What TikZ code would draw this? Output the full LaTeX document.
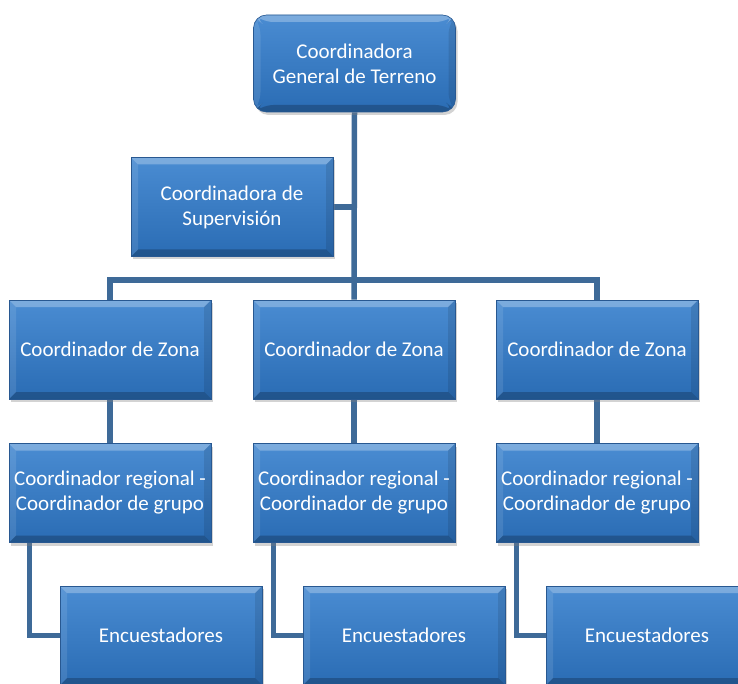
\documentclass[tikz,border=0pt]{standalone}
\usepackage{fontspec}
\setmainfont{Carlito}
\usetikzlibrary{shadows,backgrounds}
\definecolor{boxtop}{RGB}{74,140,210}
\definecolor{boxbot}{RGB}{42,108,180}
\definecolor{boxedge}{RGB}{40,88,145}
\definecolor{linec}{RGB}{62,106,152}
\tikzset{
  orgbox/.style={rectangle, minimum width=202pt, minimum height=99pt, inner sep=0pt,
    top color=boxtop, bottom color=boxbot, draw=boxedge, line width=0.6pt,
    text=white, align=center, font=\fontsize{21}{25}\selectfont,
    drop shadow={opacity=0.35, shadow xshift=2pt, shadow yshift=-3pt},
    path picture={
      \fill[white,opacity=0.28] (path picture bounding box.north west) -- (path picture bounding box.north east)
        -- ([xshift=-7pt,yshift=-7pt]path picture bounding box.north east) -- ([xshift=7pt,yshift=-7pt]path picture bounding box.north west) -- cycle;
      \fill[black,opacity=0.22] (path picture bounding box.south west) -- (path picture bounding box.south east)
        -- ([xshift=-7pt,yshift=7pt]path picture bounding box.south east) -- ([xshift=7pt,yshift=7pt]path picture bounding box.south west) -- cycle;
      \fill[black,opacity=0.10] (path picture bounding box.north east) -- (path picture bounding box.south east)
        -- ([xshift=-7pt,yshift=7pt]path picture bounding box.south east) -- ([xshift=-7pt,yshift=-7pt]path picture bounding box.north east) -- cycle;
      \fill[white,opacity=0.10] (path picture bounding box.north west) -- (path picture bounding box.south west)
        -- ([xshift=7pt,yshift=7pt]path picture bounding box.south west) -- ([xshift=7pt,yshift=-7pt]path picture bounding box.north west) -- cycle;
    }},
  roundbox/.style={orgbox, rounded corners=13pt, minimum height=97pt},
  conn/.style={draw=linec, line width=5.5pt, line join=miter}
}
\begin{document}
\begin{tikzpicture}[x=1pt,y=-1pt]
\useasboundingbox (0,0) rectangle (738,684);
\clip (0,0) rectangle (738,684);
% nodes
\node[roundbox] (top) at (354.5,63.5) {Coordinadora\\General de Terreno};
\node[orgbox] (sup) at (232,207) {Coordinadora de\\Supervisión};
\node[orgbox] (zonaL) at (110,349.5) {Coordinador de Zona};
\node[orgbox] (zonaM) at (354,349.5) {Coordinador de Zona};
\node[orgbox] (zonaR) at (597,349.5) {Coordinador de Zona};
\node[orgbox] (regL) at (110,493) {Coordinador regional -\\Coordinador de grupo};
\node[orgbox] (regM) at (354,493) {Coordinador regional -\\Coordinador de grupo};
\node[orgbox] (regR) at (597,493) {Coordinador regional -\\Coordinador de grupo};
\node[orgbox] (encL) at (161,635.5) {Encuestadores};
\node[orgbox] (encM) at (404,635.5) {Encuestadores};
\node[orgbox] (encR) at (647,635.5) {Encuestadores};
\coordinate (bar) at (354,280);
% connectors (drawn behind boxes)
\begin{scope}[on background layer]
\draw[conn] (top.south) -- (zonaM.north);
\draw[conn] (sup.east) -- (sup.east -| top.south);
\draw[conn] (zonaL.north) -- (zonaL.north |- bar) -- (zonaR.north |- bar) -- (zonaR.north);
\draw[conn] (zonaL.south) -- (regL.north);
\draw[conn] (zonaM.south) -- (regM.north);
\draw[conn] (zonaR.south) -- (regR.north);
\draw[conn] ([xshift=21pt]regL.south west) |- (encL.west);
\draw[conn] ([xshift=21pt]regM.south west) |- (encM.west);
\draw[conn] ([xshift=21pt]regR.south west) |- (encR.west);
\end{scope}
\end{tikzpicture}
\end{document}
